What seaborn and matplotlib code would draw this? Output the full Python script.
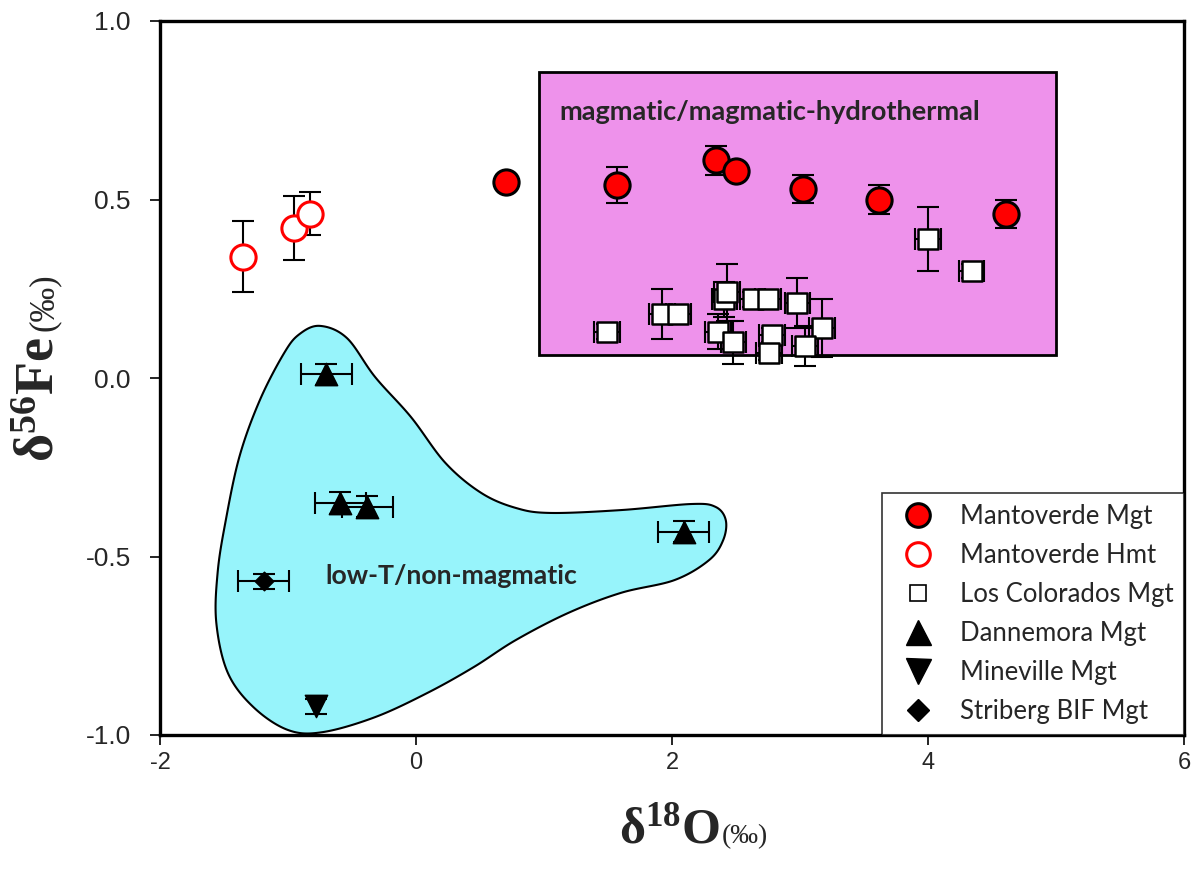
import numpy as np
import pandas as pd
import matplotlib
matplotlib.use("Agg")
import matplotlib.pyplot as plt
import seaborn as sns
from matplotlib.lines import Line2D
from matplotlib.patches import Rectangle, Polygon
from matplotlib import font_manager

# ---- data: delta18O (permil) vs delta56Fe (permil) ----
# Mantoverde magnetite
mv_mgt_o = [0.70, 1.57, 2.34, 2.50, 3.02, 3.62, 4.61]
mv_mgt_fe = [0.55, 0.54, 0.61, 0.58, 0.53, 0.50, 0.46]
mv_mgt_fe_err = [0.02, 0.05, 0.04, 0.02, 0.04, 0.04, 0.04]

# Mantoverde hematite
mv_hmt_o = [-1.35, -0.95, -0.83]
mv_hmt_fe = [0.34, 0.42, 0.46]
mv_hmt_fe_err = [0.10, 0.09, 0.06]

# Los Colorados magnetite
lc_o = [1.49, 1.92, 2.05, 2.41, 2.43, 2.63, 2.75, 2.36, 2.48, 2.78, 2.76, 2.98, 3.17, 3.04, 4.00, 4.34]
lc_fe = [0.13, 0.18, 0.18, 0.22, 0.24, 0.22, 0.22, 0.13, 0.10, 0.12, 0.07, 0.21, 0.14, 0.09, 0.39, 0.30]
lc_fe_err = [0.02, 0.07, 0.02, 0.05, 0.08, 0.02, 0.02, 0.05, 0.06, 0.02, 0.02, 0.07, 0.08, 0.055, 0.09, 0.02]
lc_o_err = [0.10] * 16

# Dannemora magnetite
dm_o = [-0.70, -0.59, -0.38, 2.09]
dm_fe = [0.01, -0.35, -0.36, -0.43]
dm_o_err = [0.20, 0.20, 0.20, 0.20]
dm_fe_err = [0.03, 0.03, 0.03, 0.03]

# Mineville magnetite
mn_o = [-0.78]
mn_fe = [-0.92]
mn_fe_err = [0.02]

# Striberg BIF magnetite
sb_o = [-1.19]
sb_fe = [-0.57]
sb_o_err = [0.20]
sb_fe_err = [0.02]

# fields
magmatic_field_o = [0.96, 5.00]
magmatic_field_fe = [0.065, 0.857]

lowT_outline_o = [-0.75, -0.54, -0.32, -0.04, 0.23, 0.51, 0.78, 1.05, 1.60, 2.15, 2.34,
                  2.42, 2.40, 2.29, 2.02, 1.60, 1.19, 0.78, 0.45, 0.09, -0.32, -0.73,
                  -1.00, -1.27, -1.47, -1.56, -1.55, -1.49, -1.38, -1.22, -1.03, -0.91]
lowT_outline_fe = [0.146, 0.112, 0.003, -0.109, -0.238, -0.322, -0.364, -0.378, -0.370,
                   -0.353, -0.361, -0.398, -0.454, -0.510, -0.566, -0.602, -0.658, -0.734,
                   -0.810, -0.882, -0.950, -0.992, -0.986, -0.922, -0.826, -0.686, -0.546,
                   -0.406, -0.221, -0.062, 0.070, 0.123]

x_ticks = [-2, 0, 2, 4, 6]
y_ticks = [-1.0, -0.5, 0.0, 0.5, 1.0]

legend_labels = ["Mantoverde Mgt", "Mantoverde Hmt", "Los Colorados Mgt",
                 "Dannemora Mgt", "Mineville Mgt", "Striberg BIF Mgt"]


def closed_catmull_rom(xs, ys, n=20):
    """Smooth closed curve through the given outline vertices."""
    p = np.column_stack([xs, ys])
    m = len(p)
    out = []
    t = np.linspace(0, 1, n, endpoint=False)[:, None]
    for i in range(m):
        p0, p1, p2, p3 = p[(i - 1) % m], p[i], p[(i + 1) % m], p[(i + 2) % m]
        seg = 0.5 * ((2 * p1) + (-p0 + p2) * t + (2 * p0 - 5 * p1 + 4 * p2 - p3) * t ** 2
                     + (-p0 + 3 * p1 - 3 * p2 + p3) * t ** 3)
        out.append(seg)
    return np.vstack(out)


sns.set_theme(style="white")
plt.rcParams["mathtext.fontset"] = "custom"
plt.rcParams["mathtext.rm"] = "Liberation Serif"
plt.rcParams["mathtext.bf"] = "Liberation Serif:bold"
plt.rcParams["mathtext.it"] = "Liberation Serif:italic"

# narrow sans for the x tick labels if it is available
installed = {f.name for f in font_manager.fontManager.ttflist}
xtick_family = "Liberation Sans Narrow" if "Liberation Sans Narrow" in installed else "Liberation Sans"
xtick_size = 20 if xtick_family == "Liberation Sans Narrow" else 17

fig = plt.figure(figsize=(11.94, 8.74), dpi=100)
ax = fig.add_axes([160 / 1194, 1 - 735 / 874, 1024 / 1194, 714 / 874])

# magmatic field
ax.add_patch(Rectangle((magmatic_field_o[0], magmatic_field_fe[0]),
                       magmatic_field_o[1] - magmatic_field_o[0],
                       magmatic_field_fe[1] - magmatic_field_fe[0],
                       facecolor="#EE92EB", edgecolor="black", lw=2.0, zorder=1))
ax.text(1.12, 0.745, "magmatic/magmatic-hydrothermal", family="Lato", weight="bold",
        fontsize=19.5, ha="left", va="center", zorder=2)

# low-T field
curve = closed_catmull_rom(lowT_outline_o, lowT_outline_fe)
ax.add_patch(Polygon(curve, closed=True, facecolor="#97F4FB", edgecolor="black",
                     lw=1.5, zorder=1))
ax.text(-0.71, -0.555, "low-T/non-magmatic", family="Lato", weight="bold",
        fontsize=19.2, ha="left", va="center", zorder=2)

eb = dict(fmt="none", ecolor="black", elinewidth=1.5, capsize=8, capthick=1.5, zorder=3)
ax.errorbar(mv_mgt_o, mv_mgt_fe, yerr=mv_mgt_fe_err, **eb)
ax.errorbar(mv_hmt_o, mv_hmt_fe, yerr=mv_hmt_fe_err, **eb)
ax.errorbar(lc_o, lc_fe, yerr=lc_fe_err, xerr=lc_o_err, **eb)
ax.errorbar(dm_o, dm_fe, yerr=dm_fe_err, xerr=dm_o_err, **eb)
ax.errorbar(mn_o, mn_fe, yerr=mn_fe_err, **eb)
ax.errorbar(sb_o, sb_fe, yerr=sb_fe_err, xerr=sb_o_err, **eb)

sns.scatterplot(x=mv_mgt_o, y=mv_mgt_fe, marker="o", s=330, color="red",
                edgecolor="black", linewidth=2.2, ax=ax, zorder=4, legend=False)
sns.scatterplot(x=mv_hmt_o, y=mv_hmt_fe, marker="o", s=330, color="white",
                edgecolor="red", linewidth=2.2, ax=ax, zorder=4, legend=False)
sns.scatterplot(x=lc_o, y=lc_fe, marker="s", s=190, color="white",
                edgecolor="black", linewidth=1.8, ax=ax, zorder=4, legend=False)
sns.scatterplot(x=dm_o, y=dm_fe, marker="^", s=260, color="black",
                edgecolor="black", linewidth=1, ax=ax, zorder=4, legend=False)
sns.scatterplot(x=mn_o, y=mn_fe, marker="v", s=260, color="black",
                edgecolor="black", linewidth=1, ax=ax, zorder=4, legend=False)
sns.scatterplot(x=sb_o, y=sb_fe, marker="D", s=90, color="black",
                edgecolor="black", linewidth=1, ax=ax, zorder=4, legend=False)

ax.set_xlim(-2, 6)
ax.set_ylim(-1.0, 1.0)
ax.set_xticks(x_ticks)
ax.set_xticklabels([str(v) for v in x_ticks], family=xtick_family, fontsize=xtick_size)
ax.set_yticks(y_ticks)
ax.set_yticklabels([f"{v:.1f}" for v in y_ticks], family="Liberation Sans", fontsize=19)
ax.tick_params(axis="both", direction="out", length=7, width=1.2, color="black",
               bottom=True, left=True)
ax.tick_params(axis="x", pad=5)
ax.tick_params(axis="y", pad=14)
for sp in ax.spines.values():
    sp.set_color("black")
    sp.set_linewidth(2.4)
ax.grid(False)

# axis titles
fig.text(720 / 1194, 1 - 843 / 874, r"$\mathbf{\delta^{18}O}$", fontsize=36,
         ha="right", va="baseline")
fig.text(722 / 1194, 1 - 843 / 874, "(‰)", family="Liberation Serif", fontsize=20,
         ha="left", va="baseline")
fig.text(53 / 1194, 1 - 462 / 874, r"$\mathbf{\delta^{56}Fe}$", fontsize=39,
         rotation=90, rotation_mode="anchor", ha="left", va="baseline")
fig.text(53 / 1194, 1 - 331 / 874, "(‰)", family="Liberation Serif", fontsize=25,
         rotation=90, rotation_mode="anchor", ha="left", va="baseline")

handles = [
    Line2D([], [], ls="none", marker="o", ms=17, mfc="red", mec="black", mew=2.2),
    Line2D([], [], ls="none", marker="o", ms=17, mfc="white", mec="red", mew=2.2),
    Line2D([], [], ls="none", marker="s", ms=12, mfc="white", mec="black", mew=1.2),
    Line2D([], [], ls="none", marker="^", ms=18, mfc="black", mec="black"),
    Line2D([], [], ls="none", marker="v", ms=18, mfc="black", mec="black"),
    Line2D([], [], ls="none", marker="D", ms=11, mfc="black", mec="black"),
]
leg = ax.legend(handles, legend_labels, loc="lower right", bbox_to_anchor=(1.0, 0.0),
                frameon=True, fancybox=False, borderaxespad=0, handletextpad=0.6,
                labelspacing=0.55, borderpad=0.42, handlelength=2.0,
                prop={"family": "Lato", "size": 18.5})
leg.get_frame().set_edgecolor("black")
leg.get_frame().set_linewidth(1.2)
leg.set_zorder(5)

fig.savefig("out.png", dpi=100)
